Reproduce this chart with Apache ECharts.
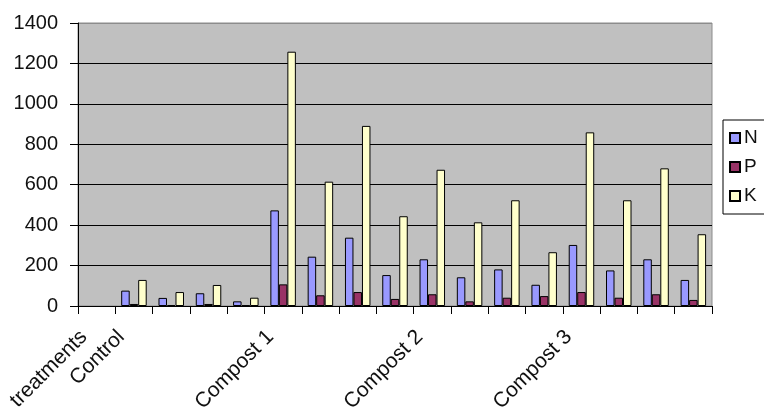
<!DOCTYPE html>
<html>
<head>
<meta charset="utf-8">
<script src="https://cdn.jsdelivr.net/npm/echarts@6/dist/echarts.min.js"></script>
<style>
  html, body { margin: 0; padding: 0; background: #fff; }
  #chart { width: 764px; height: 409px; }
</style>
</head>
<body>
<div id="chart"></div>
<script>
// Treatment rows: header row, then four replicates per treatment
const categories = ['treatments', 'Control', '', '', '', 'Compost 1', '', '', '',
  'Compost 2', '', '', '', 'Compost 3', '', '', ''];
const seriesNames = ['N', 'P', 'K'];
const valuesN = [null, 76, 40, 63, 23, 473, 244, 338, 153, 231, 142, 181, 105, 302, 176, 231, 129];
const valuesP = [null, 10, 5, 10, 3, 107, 53, 69, 35, 58, 23, 41, 49, 69, 41, 58, 30];
const valuesK = [null, 129, 69, 104, 41, 1258, 615, 891, 444, 674, 414, 523, 266, 859, 523, 681, 355];
const yTicks = [0, 200, 400, 600, 800, 1000, 1200, 1400];

const colors = ['#9999ff', '#993366', '#ffffcc'];
const font = '"Liberation Sans", Arial, sans-serif';

const chart = echarts.init(document.getElementById('chart'));
const seriesData = [valuesN, valuesP, valuesK];

chart.setOption({
  animation: false,
  textStyle: { fontFamily: font },
  grid: {
    left: 78, right: 52, top: 23, bottom: 103,
    outerBoundsMode: 'none',
    containLabel: false,
    show: true, backgroundColor: '#c0c0c0', borderColor: '#8c8c8c', borderWidth: 1
  },
  legend: {
    orient: 'vertical',
    left: 723, top: 120,
    data: seriesNames,
    icon: 'rect',
    itemWidth: 10, itemHeight: 10,
    itemGap: 9,
    padding: [8, 40, 8, 6],
    borderColor: '#000', borderWidth: 1,
    textStyle: { fontSize: 19, lineHeight: 20, color: '#111', fontFamily: font, padding: [0, 0, 0, -1] }
  },
  xAxis: {
    type: 'category',
    data: categories,
    axisLine: { lineStyle: { color: '#000', width: 1 } },
    axisTick: { show: true, interval: 0, length: 8, lineStyle: { color: '#000' } },
    axisLabel: {
      interval: 0, rotate: 45, margin: 15,
      padding: [0, 18, 0, 0],
      fontSize: 21, color: '#111', fontFamily: font
    },
    splitLine: { show: false }
  },
  yAxis: {
    type: 'value',
    min: yTicks[0], max: yTicks[yTicks.length - 1], interval: 200,
    axisLine: { show: true, lineStyle: { color: '#000', width: 1 } },
    axisTick: { show: true, length: 8, lineStyle: { color: '#000' } },
    axisLabel: {
      margin: 20, fontSize: 20, color: '#111', fontFamily: font,
      formatter: v => String(v)
    },
    splitLine: {
      show: true,
      lineStyle: {
        color: ['#000', '#000', '#000', '#000', '#000', '#000', '#000', '#8c8c8c'],
        width: 1
      }
    }
  },
  series: seriesNames.map((name, i) => ({
    name: name,
    type: 'bar',
    data: seriesData[i],
    barWidth: 8.5,
    barGap: '0%',
    itemStyle: { color: colors[i], borderColor: '#000', borderWidth: 1 }
  }))
});
</script>
</body>
</html>
